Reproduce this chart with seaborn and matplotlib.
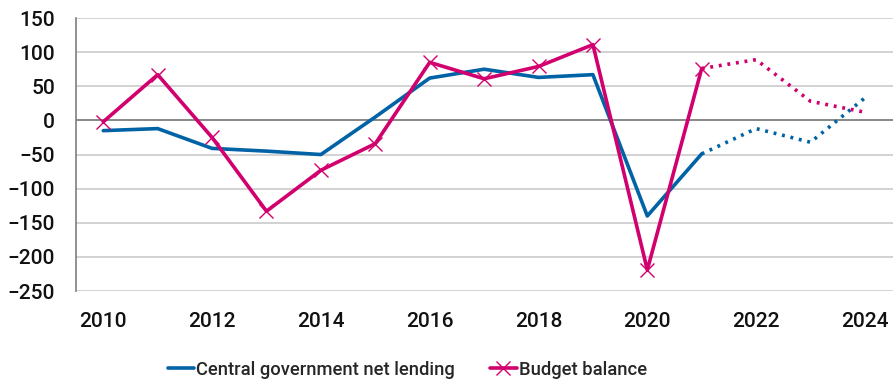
import matplotlib
matplotlib.use("Agg")
import matplotlib.pyplot as plt
from matplotlib.lines import Line2D
import numpy as np
import pandas as pd
import seaborn as sns

years = [2010, 2011, 2012, 2013, 2014, 2015, 2016, 2017, 2018, 2019, 2020, 2021, 2022, 2023, 2024]
net_lending = [-15, -12, -41, -45, -50, 5, 62, 75, 63, 67, -140, -49, -12, -32, 33]
budget_balance = [-2, 67, -25, -133, -73, -34, 85, 61, 79, 111, -219, 76, 89, 28, 12]
last_outturn = 2021
yticks = [150, 100, 50, 0, -50, -100, -150, -200, -250]
xticks = [2010, 2012, 2014, 2016, 2018, 2020, 2022, 2024]

BLUE = "#0063a6"
PINK = "#d1006e"

sns.set_theme(style="white")
plt.rcParams["font.family"] = ["Roboto", "DejaVu Sans"]

df = pd.DataFrame({"year": years, "net": net_lending, "bb": budget_balance})
hist = df[df.year <= last_outturn]
proj = df[df.year >= last_outturn]

fig = plt.figure(figsize=(8.95, 3.83), dpi=100)
ax = fig.add_axes([0.085, 0.240, 0.913, 0.713])

for v in yticks:
    ax.axhline(v, color="#7f7f7f" if v == 0 else "#cfcfcf", lw=1.3, zorder=0)

sns.lineplot(data=hist, x="year", y="net", color=BLUE, lw=2.6, ax=ax)
sns.lineplot(data=proj, x="year", y="net", color=BLUE, lw=2.6, ls=(0, (0.8, 1.6)), ax=ax)
sns.lineplot(data=hist, x="year", y="bb", color=PINK, lw=2.6, marker="x",
             markersize=10, markeredgewidth=1.0, markeredgecolor=PINK, ax=ax)
sns.lineplot(data=proj, x="year", y="bb", color=PINK, lw=2.6, ls=(0, (0.8, 1.6)), ax=ax)

ax.set_xlim(2009.5, 2024.52)
ax.set_ylim(-250, 150)
ax.set_yticks(yticks)
ax.set_xticks(xticks)
ax.set_xlabel("")
ax.set_ylabel("")
for s in ["top", "right", "bottom"]:
    ax.spines[s].set_visible(False)
ax.spines["left"].set_color("#7f7f7f")
ax.spines["left"].set_linewidth(1.2)
ax.tick_params(axis="both", length=0, labelsize=15, colors="#111111")
ax.tick_params(axis="x", pad=15)
ax.tick_params(axis="y", pad=15)
for lab in ax.get_xticklabels() + ax.get_yticklabels():
    lab.set_fontweight("medium")

handles = [
    Line2D([], [], color=BLUE, lw=2.6),
    Line2D([], [], color=PINK, lw=2.6, marker="x", markersize=10, markeredgewidth=1.0),
]
fig.legend(handles, ["Central government net lending", "Budget balance"],
           loc="center", bbox_to_anchor=(0.455, 0.035), ncol=2, frameon=False,
           handlelength=1.45, handletextpad=0.12, columnspacing=1.9,
           prop={"weight": "medium", "size": 13.2})

fig.savefig("out.png", dpi=100)
